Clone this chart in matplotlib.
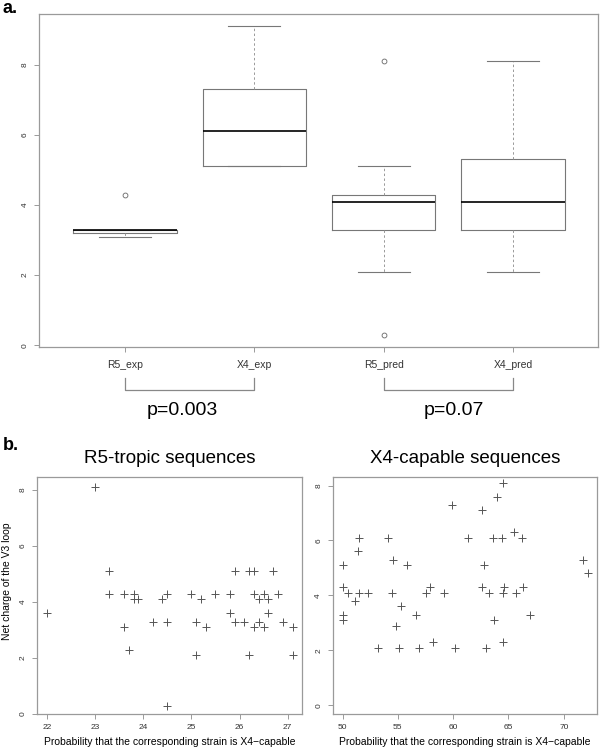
import matplotlib
matplotlib.use("Agg")
import matplotlib.pyplot as plt
from matplotlib.transforms import blended_transform_factory

plt.rcParams['font.family'] = ['Liberation Sans', 'DejaVu Sans']

# Panel a: box summaries (net charge of the V3 loop)
groups = ['R5_exp', 'X4_exp', 'R5_pred', 'X4_pred']
medians = [3.3, 6.1, 4.1, 4.1]
q1 = [3.2, 5.1, 3.3, 3.3]
q3 = [3.3, 7.3, 4.3, 5.3]
whis_lo = [3.1, 5.1, 2.1, 2.1]
whis_hi = [3.3, 9.1, 5.1, 8.1]
outliers = [[4.3], [], [8.1, 0.3], []]

# p-values for the brackets (pairs of group positions)
pairs = [(1, 2), (3, 4)]
p_labels = ['p=0.003', 'p=0.07']
p_xpos = [1.44, 3.54]

# Panel b: R5-tropic sequences
r5_prob = [22.0, 23.0, 23.3, 23.3, 23.6, 23.6, 23.7, 23.8, 23.8, 23.9,
           24.2, 24.4, 24.5, 24.5, 24.5, 25.0, 25.1, 25.1, 25.2, 25.3,
           25.5, 25.8, 25.8, 25.9, 25.9, 26.1, 26.2, 26.2, 26.3, 26.3,
           26.3, 26.4, 26.4, 26.5, 26.5, 26.6, 26.6, 26.7, 26.8, 26.9,
           27.1, 27.1]
r5_charge = [3.6, 8.1, 5.1, 4.3, 4.3, 3.1, 2.3, 4.3, 4.1, 4.1,
             3.3, 4.1, 4.3, 3.3, 0.3, 4.3, 3.3, 2.1, 4.1, 3.1,
             4.3, 4.3, 3.6, 5.1, 3.3, 3.3, 5.1, 2.1, 5.1, 4.3,
             3.1, 4.1, 3.3, 4.3, 3.1, 4.1, 3.6, 5.1, 4.3, 3.3,
             3.1, 2.1]

# Panel b: X4-capable sequences
x4_prob = [50.0, 50.0, 50.0, 50.0, 50.5, 51.1, 51.4, 51.5, 51.5, 52.3,
           53.2, 54.1, 54.6, 54.5, 54.8, 55.1, 55.3, 55.8, 56.6, 56.9,
           57.5, 57.9, 58.2, 59.2, 59.9, 60.2, 61.3, 62.6, 62.6, 62.8,
           63.0, 63.2, 63.6, 63.7, 64.0, 64.4, 64.5, 64.6, 64.5, 64.5,
           65.5, 65.7, 66.2, 66.3, 66.9, 71.7, 72.2]
x4_charge = [5.1, 4.3, 3.3, 3.1, 4.1, 3.8, 5.6, 6.1, 4.1, 4.1,
             2.1, 6.1, 5.3, 4.1, 2.9, 2.1, 3.6, 5.1, 3.3, 2.1,
             4.1, 4.3, 2.3, 4.1, 7.3, 2.1, 6.1, 7.1, 4.3, 5.1,
             2.1, 4.1, 6.1, 3.1, 7.6, 6.1, 4.1, 4.3, 2.3, 8.1,
             6.3, 4.1, 6.1, 4.3, 3.3, 5.3, 4.8]

frame_col = '#9a9a9a'
box_col = '#777777'
pt_col = '#555555'


def style_axes(ax, xsize):
    for s in ax.spines.values():
        s.set_color(frame_col)
        s.set_linewidth(0.9)
    ax.tick_params(direction='out', length=3.5, width=0.7, color=frame_col,
                   labelcolor='#333333', pad=4)
    ax.tick_params(axis='x', labelsize=xsize)
    ax.tick_params(axis='y', labelsize=6)
    for lab in ax.get_yticklabels():
        lab.set_rotation(90)
        lab.set_va('center')


fig = plt.figure(figsize=(6, 7.53), dpi=100)

# ---- panel a ----
ax = fig.add_axes([0.065, 0.5392, 0.9317, 0.4422])
stats = []
for i in range(len(groups)):
    stats.append(dict(label=groups[i], med=medians[i], q1=q1[i], q3=q3[i],
                      whislo=whis_lo[i], whishi=whis_hi[i], fliers=outliers[i]))
ax.bxp(stats, positions=range(1, len(groups) + 1), widths=0.8, capwidths=0.4,
       boxprops=dict(color=box_col, linewidth=0.8),
       whiskerprops=dict(color='#999999', linewidth=0.7, linestyle=(0, (2.5, 2.5))),
       capprops=dict(color=box_col, linewidth=0.8),
       medianprops=dict(color='black', linewidth=1.2),
       flierprops=dict(marker='o', markersize=3.5, markerfacecolor='none',
                       markeredgecolor='#666666', markeredgewidth=0.6))
ax.set_xlim(0.335, 4.657)
ax.set_ylim(-0.05, 9.45)
ax.set_yticks([0, 2, 4, 6, 8])
ax.set_yticklabels(['0', '2', '4', '6', '8'])
style_axes(ax, 7.5)
ax.tick_params(axis='x', pad=6)

trans = blended_transform_factory(ax.transData, fig.transFigure)
for (a, b), lab, xp in zip(pairs, p_labels, p_xpos):
    ax.plot([a, a, b, b], [0.498, 0.482, 0.482, 0.498], color='#888888',
            linewidth=0.9, transform=trans, clip_on=False)
    ax.text(xp, 0.4545, lab, transform=trans, ha='center', va='center',
            fontsize=14)

fig.text(0.004, 0.983, 'a.', fontsize=13, fontweight='bold', va='baseline')
fig.text(0.004, 0.4024, 'b.', fontsize=13, fontweight='bold', va='baseline')

# ---- panel b ----
xlab = 'Probability that the corresponding strain is X4\u2212capable'

ax1 = fig.add_axes([0.0617, 0.0518, 0.4422, 0.3143])
ax1.plot(r5_prob, r5_charge, linestyle='none', marker='+', markersize=6,
         markeredgewidth=0.7, color=pt_col)
ax1.set_xlim(21.796, 27.304)
ax1.set_ylim(0, 8.45)
ax1.set_xticks([22, 23, 24, 25, 26, 27])
ax1.set_yticks([0, 2, 4, 6, 8])
ax1.set_yticklabels(['0', '2', '4', '6', '8'])
style_axes(ax1, 6)
ax1.set_title('R5-tropic sequences', fontsize=13.5, pad=10.5)
ax1.set_xlabel(xlab, fontsize=7.5, labelpad=4)
ax1.set_ylabel('Net charge of the V3 loop', fontsize=7.5)
ax1.yaxis.set_label_coords(-0.095, 0.56)

ax2 = fig.add_axes([0.5545, 0.0518, 0.4405, 0.3143])
ax2.plot(x4_prob, x4_charge, linestyle='none', marker='+', markersize=6,
         markeredgewidth=0.7, color=pt_col)
ax2.set_xlim(49.11, 73.0)
ax2.set_ylim(-0.32, 8.3)
ax2.set_xticks([50, 55, 60, 65, 70])
ax2.set_yticks([0, 2, 4, 6, 8])
ax2.set_yticklabels(['0', '2', '4', '6', '8'])
style_axes(ax2, 6)
ax2.set_title('X4-capable sequences', fontsize=13.5, pad=10.5)
ax2.set_xlabel(xlab, fontsize=7.5, labelpad=4)

fig.savefig('out.png', dpi=100)
